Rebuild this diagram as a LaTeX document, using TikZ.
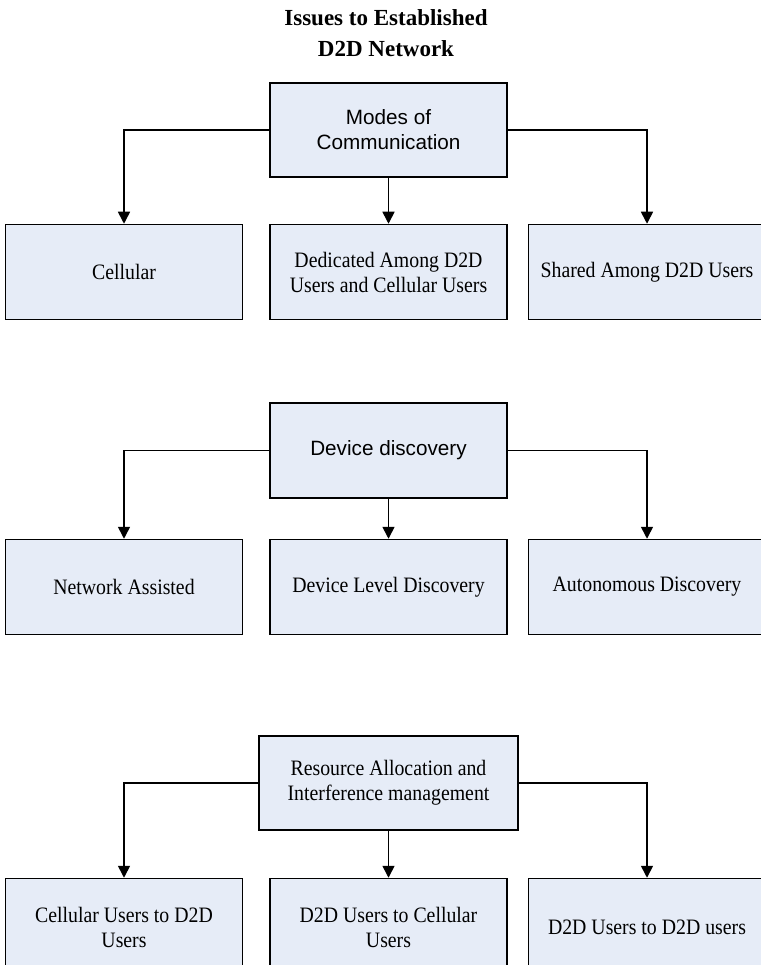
\documentclass[tikz,border=0pt]{standalone}
\usepackage{fontspec}
\setmainfont{Liberation Serif}
\newfontfamily\boxserif{Liberation Serif}[FakeStretch=0.9]
\newfontfamily\sansbox{Liberation Sans}
\usetikzlibrary{arrows.meta, positioning}
\definecolor{boxfill}{RGB}{230,236,247}

\begin{document}
\begin{tikzpicture}[node distance=45pt,
    issue/.style={rectangle, draw, fill=boxfill, line width=1.5pt, text centered, align=center, minimum width=237pt, minimum height=94pt, inner sep=2pt, font=\boxserif\fontsize{22}{25}\selectfont},
    subissue/.style={issue, minimum height=95pt},
    link/.style={-{Triangle[length=12pt, width=12pt]}, line width=1.6pt}]
    \path[fill=white, use as bounding box] (0,0) rectangle (760pt,-965pt);

    % Nodes
    \node [align=center, font=\bfseries\fontsize{23}{31}\selectfont] (title) at (386pt,-33pt) {Issues to Established\\D2D Network};

    \node [issue, font=\sansbox\fontsize{20.7}{25}\selectfont] (modes) at (388.5pt,-130pt) {Modes of\\Communication};
    \node [subissue, below=46pt of modes] (dedicated) {Dedicated Among D2D\\Users and Cellular Users};
    \node [subissue, left=26pt of dedicated] (cellular) {Cellular};
    \node [subissue, right=20pt of dedicated] (shared) {Shared Among D2D Users};

    \node [issue, font=\sansbox\fontsize{20.7}{25}\selectfont, minimum height=95pt, below=82pt of dedicated] (discovery) {Device discovery};
    \node [subissue, below=40pt of discovery] (devlevel) {Device Level Discovery};
    \node [subissue, left=26pt of devlevel] (netassist) {Network Assisted};
    \node [subissue, right=20pt of devlevel] (autonomous) {Autonomous Discovery};

    \node [issue, minimum width=259pt, below=100pt of devlevel] (resource) {Resource Allocation and\\Interference management};
    \node [subissue, minimum height=97pt, below=47pt of resource] (d2dcell) {D2D Users to Cellular\\Users};
    \node [subissue, minimum height=97pt, left=26pt of d2dcell] (celld2d) {Cellular Users to D2D\\Users};
    \node [subissue, minimum height=97pt, right=20pt of d2dcell] (d2dd2d) {D2D Users to D2D users};

    % Edges
    \draw [link] (modes.west) -| (cellular);
    \draw [link] (modes) -- (dedicated);
    \draw [link] (modes.east) -| (shared);

    \draw [link] (discovery.west) -| (netassist);
    \draw [link] (discovery) -- (devlevel);
    \draw [link] (discovery.east) -| (autonomous);

    \draw [link] (resource.west) -| (celld2d);
    \draw [link] (resource) -- (d2dcell);
    \draw [link] (resource.east) -| (d2dd2d);
\end{tikzpicture}
\end{document}
